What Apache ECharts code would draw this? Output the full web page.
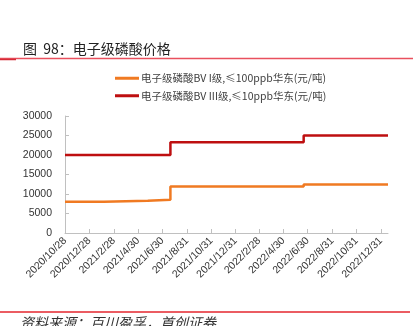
<!DOCTYPE html>
<html>
<head>
<meta charset="utf-8">
<script src="https://cdn.jsdelivr.net/npm/echarts@6/dist/echarts.min.js"></script>
<style>
html,body{margin:0;padding:0;background:#fff;}
#c{width:414px;height:326px;}
</style>
</head>
<body>
<div id="c"></div>
<script>
const tickLabels = ['2020/10/28','2020/12/28','2021/2/28','2021/4/30','2021/6/30','2021/8/31','2021/10/31','2021/12/31','2022/2/28','2022/4/30','2022/6/30','2022/8/31','2022/10/31','2022/12/31'];
const axisStart = '2020/10/28';
const axisEnd = '2023/1/18';
const seriesNames = ['电子级磷酸BV I级,≤100ppb华东(元/吨)', '电子级磷酸BV III级,≤10ppb华东(元/吨)'];
const gradeIDates = ['2020/10/28','2021/2/3','2021/5/24','2021/7/20','2022/6/20','2023/1/18'];
const gradeIValues = [8000, 8300, 8550, 11900, 12450, 12450];
const gradeIIIDates = ['2020/10/28','2021/7/20','2022/6/20','2023/1/18'];
const gradeIIIValues = [20000, 23250, 25000, 25000];

function toTime(s){ const p = s.split('/').map(Number); return Date.UTC(p[0], p[1]-1, p[2]); }
function dayOf(s){ return Math.round((toTime(s) - toTime(axisStart)) / 86400000); }
const tickDays = tickLabels.map(dayOf);
function pairs(d, v){ return d.map((x, i) => [dayOf(x), v[i]]); }

const chart = echarts.init(document.getElementById('c'), null, {renderer:'canvas'});
chart.setOption({
  animation:false,
  backgroundColor:'#fff',
  title:{
    text:'图  98：电子级磷酸价格',
    left:18, top:37,
    textStyle:{fontFamily:'Noto Sans CJK SC', fontSize:14, fontWeight:'normal', color:'#222'}
  },
  legend:{
    orient:'vertical', left:110, top:68, itemGap:7,
    itemWidth:24, itemHeight:14,
    icon:'path://M0,0 L24,0 L24,3 L0,3 Z',
    textStyle:{fontFamily:'Noto Sans CJK SC', fontSize:10.5, color:'#404040', padding:[0,0,0,-3]},
    data: seriesNames
  },
  grid:{left:65, right:26, top:116, bottom:93, containLabel:false},
  xAxis:{
    type:'value',
    min: 0, max: dayOf(axisEnd),
    axisLine:{show:true, lineStyle:{color:'#c0c0c0', width:1}},
    axisTick:{show:true, inside:true, length:4, lineStyle:{color:'#c0c0c0'}, customValues: tickDays},
    axisLabel:{
      customValues: tickDays,
      rotate:45, fontSize:10.5, color:'#333', margin:6,
      fontFamily:'Liberation Sans',
      formatter: function(v){ const i = tickDays.indexOf(v); return i >= 0 ? tickLabels[i] : ''; }
    },
    splitLine:{show:false}
  },
  yAxis:{
    type:'value', min:0, max:30000, interval:5000,
    axisLine:{show:true, lineStyle:{color:'#c0c0c0', width:1}},
    axisTick:{show:true, inside:true, length:4, lineStyle:{color:'#c0c0c0'}},
    axisLabel:{fontSize:10.5, color:'#333', margin:13, fontFamily:'Liberation Sans',
      formatter: function(v){ return String(v); }},
    splitLine:{show:false}
  },
  series:[
    {name:seriesNames[0], type:'line', step:'end', showSymbol:false, symbol:'none',
     data: pairs(gradeIDates, gradeIValues), color:'#F07A22', lineStyle:{width:2.5, color:'#F07A22'}},
    {name:seriesNames[1], type:'line', step:'end', showSymbol:false, symbol:'none',
     data: pairs(gradeIIIDates, gradeIIIValues), color:'#BE0F10', lineStyle:{width:2.5, color:'#BE0F10'}}
  ],
  graphic:[
    {type:'line', shape:{x1:0, y1:58.5, x2:413, y2:58.5}, style:{stroke:'#E9505E', lineWidth:1.3}},
    {type:'line', shape:{x1:0, y1:59.5, x2:16, y2:59.5}, style:{stroke:'#D42A36', lineWidth:1.5}},
    {type:'line', shape:{x1:0, y1:312, x2:410, y2:312}, style:{stroke:'#E5262E', lineWidth:1.5}},
    {type:'text', left:20, top:316, style:{text:'资料来源：百川盈孚，首创证券', fontFamily:'Noto Sans CJK SC', fontSize:14, fontStyle:'italic', fill:'#333'}}
  ]
});
</script>
</body>
</html>
